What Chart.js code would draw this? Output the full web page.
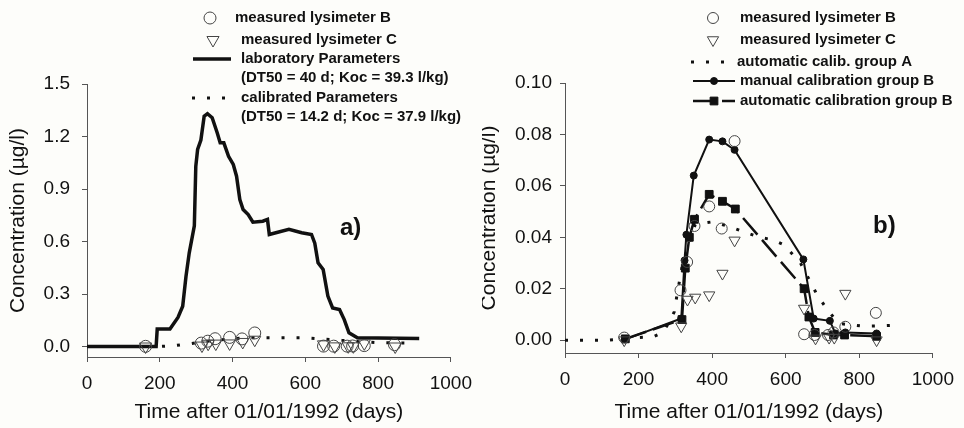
<!DOCTYPE html>
<html>
<head>
<meta charset="utf-8">
<script src="https://cdn.jsdelivr.net/npm/chart.js@4.4.1/dist/chart.umd.min.js"></script>
<style>
  html, body { margin: 0; padding: 0; background: #fdfdfa; }
  #wrap { position: relative; width: 964px; height: 428px; }
  .box { position: absolute; top: 0; width: 482px; height: 428px; }
</style>
</head>
<body>
<div id="wrap">
  <div class="box" style="left:0"><canvas id="chartA"></canvas></div>
  <div class="box" style="left:482px"><canvas id="chartB"></canvas></div>
</div>
<script>
// measured values, used in both panels (days after 01/01/1992, µg/l)
const lysBDays = [161, 314, 332, 352, 392, 426, 461, 650, 678, 715, 730, 762, 845];
const lysBConc = [0.001, 0.0194, 0.0304, 0.0444, 0.052, 0.0434, 0.0774, 0.0023, 0.002, 0.002, 0.003, 0.0052, 0.0106];
const lysCDays = [161, 316, 333, 354, 392, 428, 461, 650, 681, 718, 732, 762, 847];
const lysCConc = [0, 0.0054, 0.0158, 0.0166, 0.0175, 0.0259, 0.0388, 0.0123, 0.0007, 0.001, 0.001, 0.0181, 0];

// panel a) simulations
const labDays = [0, 190, 193, 228, 250, 263, 272, 281, 295, 299, 304, 313, 322, 331, 344, 358, 366, 376, 389, 402, 411, 420, 429, 443, 456, 483, 496, 501, 519, 555, 590, 617, 626, 635, 649, 662, 675, 694, 707, 720, 743, 913];
const labConc = [0, 0, 0.1, 0.1, 0.166, 0.23, 0.40, 0.535, 0.69, 1.03, 1.126, 1.18, 1.316, 1.33, 1.307, 1.22, 1.164, 1.164, 1.087, 1.04, 0.973, 0.84, 0.783, 0.754, 0.71, 0.716, 0.726, 0.64, 0.65, 0.669, 0.65, 0.64, 0.59, 0.478, 0.44, 0.288, 0.22, 0.211, 0.154, 0.078, 0.05, 0.046];
const calDays = [0, 200, 240, 280, 330, 400, 460, 520, 600, 700, 800, 880];
const calConc = [0, 0, 0.005, 0.015, 0.03, 0.045, 0.05, 0.05, 0.05, 0.035, 0.022, 0.02];

// panel b) simulations
const autoADays = [0, 120, 200, 240, 266, 282, 297, 305, 320, 354, 400, 450, 488, 529, 565, 596, 640, 684, 712, 744, 811, 851, 893];
const autoAConc = [0, 0, 0.001, 0.0013, 0.003, 0.0067, 0.011, 0.018, 0.03, 0.045, 0.046, 0.044, 0.042, 0.040, 0.039, 0.037, 0.03, 0.018, 0.012, 0.0065, 0.0054, 0.0055, 0.0058];
const manBDays = [164, 316, 325, 330, 350, 392, 428, 461, 648, 676, 720, 735, 762, 847];
const manBConc = [0.0003, 0.0084, 0.031, 0.041, 0.064, 0.078, 0.0773, 0.074, 0.0314, 0.0084, 0.0075, 0.0026, 0.003, 0.0026];
const autoBDays = [164, 318, 327, 338, 352, 392, 428, 463, 650, 663, 680, 730, 760, 847];
const autoBConc = [0.0005, 0.008, 0.028, 0.040, 0.047, 0.0567, 0.054, 0.051, 0.020, 0.009, 0.003, 0.002, 0.002, 0.0015];

const xTicks = [0, 200, 400, 600, 800, 1000];

const FONT = "'Liberation Sans', Arial, sans-serif";

function pts(xs, ys) {
  return xs.map((x, i) => ({ x: x, y: ys[i] }));
}

// legend drawn inside the canvas, with two-line labels
const sideLegend = {
  id: "sideLegend",
  afterDraw(chart, args, opts) {
    const ctx = chart.ctx;
    ctx.save();
    ctx.textBaseline = "middle";
    ctx.textAlign = "left";
    opts.items.forEach((it) => {
      const ds = chart.data.datasets[it.ds];
      const xm = (it.x0 + it.x1) / 2;
      if (ds.showLine !== false) {
        ctx.save();
        ctx.strokeStyle = ds.borderColor;
        ctx.lineWidth = ds.borderWidth;
        ctx.setLineDash(ds.borderDash || []);
        ctx.beginPath();
        ctx.moveTo(it.x0, it.y);
        ctx.lineTo(it.x1, it.y);
        ctx.stroke();
        ctx.restore();
      }
      if (ds.pointRadius > 0) {
        ctx.save();
        ctx.fillStyle = ds.pointBackgroundColor;
        ctx.strokeStyle = ds.pointBorderColor;
        ctx.lineWidth = ds.pointBorderWidth;
        Chart.helpers.drawPoint(ctx, {
          pointStyle: ds.pointStyle,
          radius: ds.pointRadius,
          rotation: ds.pointRotation || 0,
          borderWidth: ds.pointBorderWidth,
        }, xm, it.y);
        ctx.restore();
      }
      ctx.fillStyle = "#111";
      ctx.font = "bold 15px " + FONT;
      it.text.forEach((t, i) => ctx.fillText(t, it.tx, it.y + i * 19));
    });
    ctx.font = "bold 24px " + FONT;
    ctx.textBaseline = "alphabetic";
    ctx.fillText(opts.tag, opts.tagX, opts.tagY);
    ctx.restore();
  },
};

function axes(o) {
  return {
    x: {
      type: "linear",
      min: 0,
      max: 1000,
      afterBuildTicks: (s) => { s.ticks = xTicks.map((v) => ({ value: v })); },
      afterFit: (s) => { s.height = o.xHeight; },
      border: { display: true, color: "#555", width: 1 },
      grid: { drawOnChartArea: false, drawTicks: true, tickLength: 5, color: "#555" },
      ticks: {
        color: "#111",
        font: { family: FONT, size: 19 },
        padding: o.xPad,
        maxRotation: 0,
        callback: (v) => String(v),
      },
      title: {
        display: true,
        text: "Time after 01/01/1992 (days)",
        color: "#111",
        font: { family: FONT, size: 21 },
        padding: { top: 0, bottom: 3 },
      },
    },
    y: {
      type: "linear",
      min: o.yMin,
      max: o.yMax,
      afterFit: (s) => { s.width = o.yWidth; },
      border: { display: true, color: "#555", width: 1 },
      grid: { drawOnChartArea: false, drawTicks: true, tickLength: 5, color: "#555" },
      ticks: {
        stepSize: o.step,
        includeBounds: false,
        color: "#111",
        font: { family: FONT, size: 19 },
        padding: o.yPad,
        callback: (v) => v.toFixed(o.digits),
      },
      title: {
        display: true,
        text: "Concentration (µg/l)",
        color: "#111",
        font: { family: FONT, size: 21, lineHeight: 1 },
        padding: { top: o.yTitlePad, bottom: 0 },
      },
    },
  };
}

const baseOpts = {
  responsive: true,
  maintainAspectRatio: false,
  animation: false,
  plugins: { legend: { display: false }, tooltip: { enabled: false } },
};

new Chart(document.getElementById("chartA"), {
  type: "scatter",
  data: {
    datasets: [
      {
        label: "measured lysimeter B",
        data: pts(lysBDays, lysBConc),
        showLine: false,
        pointStyle: "circle",
        pointRadius: 6,
        pointBorderWidth: 1,
        pointBorderColor: "#444",
        pointBackgroundColor: "rgba(0,0,0,0)",
      },
      {
        label: "measured lysimeter C",
        data: pts(lysCDays, lysCConc),
        showLine: false,
        pointStyle: "triangle",
        pointRotation: 180,
        pointRadius: 7,
        pointBorderWidth: 1,
        pointBorderColor: "#444",
        pointBackgroundColor: "rgba(0,0,0,0)",
      },
      {
        label: "laboratory Parameters",
        data: pts(labDays, labConc),
        showLine: true,
        borderColor: "#111",
        borderWidth: 3.5,
        pointRadius: 0,
        tension: 0,
      },
      {
        label: "calibrated Parameters",
        data: pts(calDays, calConc),
        showLine: true,
        borderColor: "#111",
        borderWidth: 3,
        borderDash: [3, 12],
        pointRadius: 0,
        tension: 0,
      },
    ],
  },
  options: {
    ...baseOpts,
    layout: { padding: { top: 84, right: 23, left: 0, bottom: 0 } },
    scales: axes({ yMin: -0.06, yMax: 1.5, step: 0.3, digits: 1, yWidth: 87, xHeight: 71, xPad: 10, yPad: 12, yTitlePad: 8 }),
    plugins: {
      ...baseOpts.plugins,
      sideLegend: {
        tag: "a)", tagX: 340, tagY: 235,
        items: [
          { ds: 0, x0: 204, x1: 216, tx: 235, y: 18, text: ["measured lysimeter B"] },
          { ds: 1, x0: 207, x1: 219, tx: 241, y: 40, text: ["measured lysimeter C"] },
          { ds: 2, x0: 193, x1: 231, tx: 241, y: 59, text: ["laboratory Parameters", "(DT50 = 40 d; Koc = 39.3 l/kg)"] },
          { ds: 3, x0: 192, x1: 232, tx: 241, y: 98, text: ["calibrated Parameters", "(DT50 = 14.2 d; Koc = 37.9 l/kg)"] },
        ],
      },
    },
  },
  plugins: [sideLegend],
});

new Chart(document.getElementById("chartB"), {
  type: "scatter",
  data: {
    datasets: [
      {
        label: "measured lysimeter B",
        data: pts(lysBDays, lysBConc),
        showLine: false,
        pointStyle: "circle",
        pointRadius: 5.5,
        pointBorderWidth: 1,
        pointBorderColor: "#444",
        pointBackgroundColor: "rgba(0,0,0,0)",
      },
      {
        label: "measured lysimeter C",
        data: pts(lysCDays, lysCConc),
        showLine: false,
        pointStyle: "triangle",
        pointRotation: 180,
        pointRadius: 6.5,
        pointBorderWidth: 1,
        pointBorderColor: "#444",
        pointBackgroundColor: "rgba(0,0,0,0)",
      },
      {
        label: "automatic calib. group A",
        data: pts(autoADays, autoAConc),
        showLine: true,
        borderColor: "#111",
        borderWidth: 3,
        borderDash: [3, 12],
        pointRadius: 0,
        tension: 0,
      },
      {
        label: "manual calibration group B",
        data: pts(manBDays, manBConc),
        showLine: true,
        borderColor: "#111",
        borderWidth: 2,
        pointStyle: "circle",
        pointRadius: 3.5,
        pointBorderWidth: 1,
        pointBorderColor: "#111",
        pointBackgroundColor: "#111",
        tension: 0,
      },
      {
        label: "automatic calibration group B",
        data: pts(autoBDays, autoBConc),
        showLine: true,
        borderColor: "#111",
        borderWidth: 2.5,
        borderDash: [22, 7],
        pointStyle: "rect",
        pointRadius: 5.5,
        pointBorderWidth: 1,
        pointBorderColor: "#111",
        pointBackgroundColor: "#111",
        tension: 0,
      },
    ],
  },
  options: {
    ...baseOpts,
    layout: { padding: { top: 83, right: 27, left: 0, bottom: 0 } },
    scales: axes({ yMin: -0.005, yMax: 0.1, step: 0.02, digits: 2, yWidth: 83, xHeight: 75, xPad: 10, yPad: 8, yTitlePad: -3 }),
    plugins: {
      ...baseOpts.plugins,
      sideLegend: {
        tag: "b)", tagX: 391, tagY: 233,
        items: [
          { ds: 0, x0: 225, x1: 237, tx: 258, y: 18, text: ["measured lysimeter B"] },
          { ds: 1, x0: 225, x1: 237, tx: 258, y: 40, text: ["measured lysimeter C"] },
          { ds: 2, x0: 209, x1: 245, tx: 255, y: 62, text: ["automatic calib. group A"] },
          { ds: 3, x0: 211, x1: 253, tx: 258, y: 81, text: ["manual calibration group B"] },
          { ds: 4, x0: 211, x1: 253, tx: 258, y: 101, text: ["automatic calibration group B"] },
        ],
      },
    },
  },
  plugins: [sideLegend],
});
</script>
</body>
</html>
